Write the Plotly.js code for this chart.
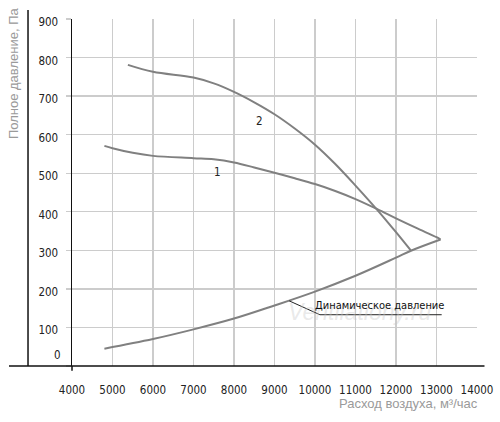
<!DOCTYPE html>
<html>
<head>
<meta charset="utf-8">
<script src="https://cdn.plot.ly/plotly-3.0.1.min.js"></script>
<style>html,body{margin:0;padding:0;background:#fff}#chart{width:500px;height:422px}</style>
</head>
<body>
<div id="chart"></div>
<script>
// Curve 1
var curve1X = [4800, 5000, 5500, 6000, 7000, 7500, 8000, 8500, 9000, 9500, 10000, 10500, 11000, 11536, 12000, 12500, 13000, 13100];
var curve1Y = [571, 565, 553, 545, 539, 536, 528, 515, 501, 487, 472, 454, 433, 407, 383, 358, 334, 328];
// Curve 2
var curve2X = [5380, 6000, 7000, 7500, 8000, 8500, 9000, 9500, 10000, 10500, 11000, 11536, 12000, 12370];
var curve2Y = [781, 763, 748, 733, 711, 684, 653, 616, 574, 524, 468, 405, 347, 299];
// Dynamic pressure
var dynX = [4800, 6000, 7000, 8000, 9000, 10000, 11000, 12000, 12370, 13100];
var dynY = [45, 70, 95, 123, 157, 193, 234, 281, 299, 328];
// Leader line for the "dynamic pressure" label
var leaderX = [9362, 10121, 13128];
var leaderY = [169, 133, 133];
// Tick labels
var xTicks = [4000, 5000, 6000, 7000, 8000, 9000, 10000, 11000, 12000, 13000, 14000];
var yTicks = [0, 100, 200, 300, 400, 500, 600, 700, 800, 900];

var lineStyle = {color: '#808080', width: 2, shape: 'spline', smoothing: 1};
var traces = [
  {x: curve1X, y: curve1Y, mode: 'lines', line: lineStyle, hoverinfo: 'skip'},
  {x: curve2X, y: curve2Y, mode: 'lines', line: lineStyle, hoverinfo: 'skip'},
  {x: dynX, y: dynY, mode: 'lines', line: lineStyle, hoverinfo: 'skip'},
  {x: leaderX, y: leaderY, mode: 'lines', line: {color: '#222', width: 1}, hoverinfo: 'skip'}
];

var tickFont = {family: '"Liberation Sans Narrow", "DejaVu Sans Condensed", "Liberation Sans", sans-serif', size: 11.5, color: '#222'};
var titleFont = {family: '"Liberation Sans", Arial, sans-serif', size: 13, color: '#9a9a9a'};

var yText = yTicks.map(function (v) { return v === 0 ? '' : String(v); });

var layout = {
  width: 500, height: 422,
  margin: {l: 72, r: 23, t: 19, b: 56},
  paper_bgcolor: '#fff', plot_bgcolor: '#fff',
  showlegend: false,
  xaxis: {
    range: [4000, 14000], tickvals: xTicks, ticktext: xTicks.map(String),
    showgrid: true, gridcolor: '#cccccc', gridwidth: 1.3,
    zeroline: false, showline: false, ticks: '',
    tickfont: tickFont, ticklabelstandoff: 15, fixedrange: true
  },
  yaxis: {
    range: [0, 900], tickvals: yTicks, ticktext: yText,
    showgrid: true, gridcolor: '#cccccc', gridwidth: 1.3,
    zeroline: false, showline: true, linecolor: '#111', linewidth: 1.5,
    ticks: 'outside', ticklen: 5, tickcolor: '#cccccc', tickwidth: 1.3,
    tickfont: tickFont, ticklabelstandoff: 5, ticklabelshift: 3, fixedrange: true
  },
  shapes: [
    {type: 'line', xref: 'paper', yref: 'paper', x0: -0.1556, x1: 1.0185, y0: 0, y1: 0, line: {color: '#111', width: 1.5}},
    {type: 'line', xref: 'paper', yref: 'paper', x0: -0.1086, x1: -0.1086, y0: 0, y1: 1.026, line: {color: '#111', width: 1.5}},
    {type: 'line', xref: 'paper', yref: 'paper', x0: 0, x1: 0, y0: 0, y1: -0.014, line: {color: '#111', width: 1.5}}
  ],
  annotations: [
    {xref: 'paper', yref: 'paper', x: -0.1457, y: 0.844, text: 'Полное давление, Па', textangle: -90,
     showarrow: false, font: titleFont, xanchor: 'center', yanchor: 'middle'},
    {xref: 'paper', yref: 'paper', x: 1.0067, y: -0.1086, text: 'Расход воздуха, м³/час',
     showarrow: false, font: titleFont, xanchor: 'right', yanchor: 'middle'},
    {xref: 'paper', yref: 'y', x: -0.022, y: yTicks[0], yshift: 11, text: String(yTicks[0]),
     showarrow: false, font: tickFont, xanchor: 'right', yanchor: 'middle'},
    {x: 7583, y: 502, text: '1', showarrow: false, font: tickFont},
    {x: 8638, y: 636, text: '2', showarrow: false, font: tickFont},
    {x: 11100, y: 140, text: 'Ventilationy.ru', showarrow: false,
     font: {family: '"Liberation Sans", Arial, sans-serif', size: 23, color: 'rgba(200,200,200,0.4)', style: 'italic'}},
    {x: 11600, y: 156, text: 'Динамическое давление', showarrow: false,
     font: {family: '"Liberation Sans Narrow", "DejaVu Sans Condensed", "Liberation Sans", sans-serif', size: 11, color: '#111'}}
  ]
};

Plotly.newPlot('chart', traces, layout, {displayModeBar: false, staticPlot: true});
</script>
</body>
</html>
